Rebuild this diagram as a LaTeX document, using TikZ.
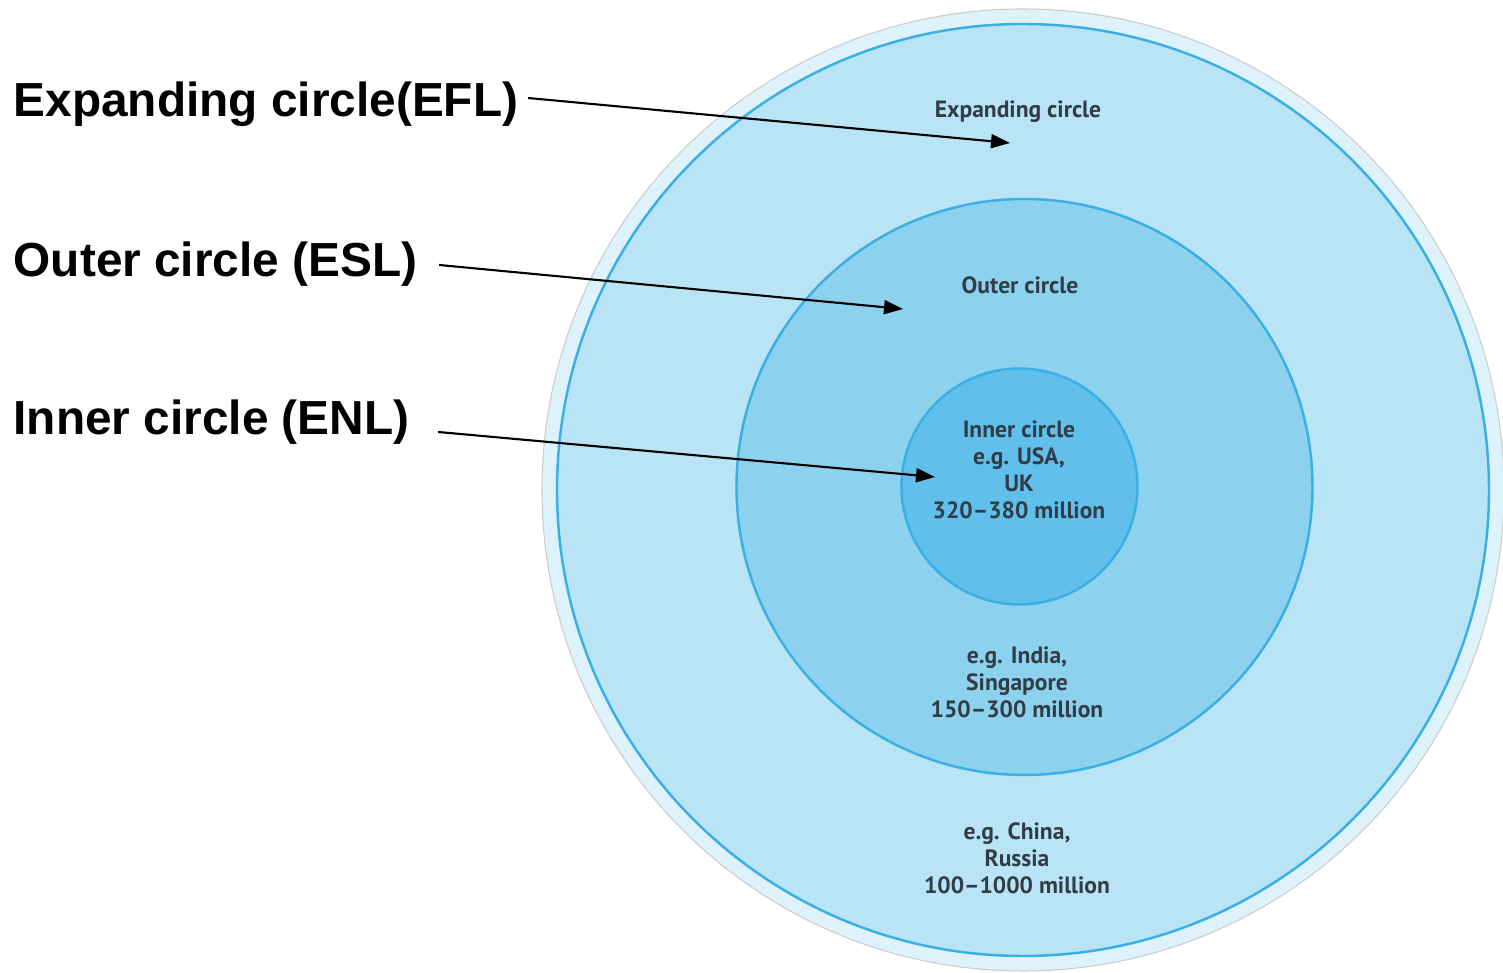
\documentclass[tikz,border=0pt]{standalone}
\usepackage{fontspec}
\setmainfont{Liberation Sans}
\newfontfamily\ringfont{PT Sans}
\usetikzlibrary{arrows.meta}

\definecolor{rimblue}{RGB}{221,242,250}
\definecolor{expblue}{RGB}{184,228,245}
\definecolor{outblue}{RGB}{140,210,238}
\definecolor{innblue}{RGB}{96,192,235}
\definecolor{ringline}{RGB}{58,175,228}
\definecolor{ringtext}{RGB}{50,60,70}

\begin{document}
\begin{tikzpicture}[
  ring/.style={draw=ringline, line width=0.7pt},
  ringlbl/.style={
    align=center, text=ringtext, inner sep=0pt,
    font=\ringfont\bfseries\fontsize{6.7}{7.7}\selectfont
  },
  sidelbl/.style={
    anchor=base west, inner sep=0pt,
    font=\bfseries\fontsize{13.6}{16}\selectfont
  },
  ptr/.style={-{Triangle[length=0.19cm, width=0.14cm]}, line width=0.6pt}
]
  \fill[white] (0,0) rectangle (15.03,9.73);
  \useasboundingbox (0,0) rectangle (15.03,9.73);
  % the three circles
  \coordinate (c0) at (10.23,4.83);
  \filldraw[fill=rimblue, draw=black!20, line width=0.3pt] (c0) circle (4.81);
  \filldraw[ring, fill=expblue] (c0) circle (4.66);
  \filldraw[ring, fill=outblue] (10.245,4.86) circle (2.88);
  \filldraw[ring, fill=innblue] (10.195,4.865) circle (1.18);

  \node[ringlbl] (expT) at (10.18,8.61) {Expanding circle};
  \node[ringlbl] (outT) at (10.20,6.88) {Outer circle};
  \node[ringlbl] (innT) at (10.19,5.03) {Inner circle\\e.g. USA,\\UK\\320–380 million};
  \node[ringlbl] (outB) at (10.17,2.91) {e.g. India,\\Singapore\\150–300 million};
  \node[ringlbl] (expB) at (10.17,1.15) {e.g. China,\\Russia\\100–1000 million};

  % labels on the left
  \node[sidelbl] (efl) at (0.13,8.56) {Expanding circle(EFL)};
  \node[sidelbl] (esl) at (0.13,6.96) {Outer circle (ESL)};
  \node[sidelbl] (enl) at (0.13,5.38) {Inner circle (ENL)};

  \coordinate (tipEFL) at (10.10,8.30);
  \coordinate (tipESL) at (9.03,6.64);
  \coordinate (tipENL) at (9.35,4.96);
  \draw[ptr] ([xshift=0.09cm,yshift=0.19cm]efl.base east) -- (tipEFL);
  \draw[ptr] ([xshift=0.21cm,yshift=0.12cm]esl.base east) -- (tipESL);
  \draw[ptr] ([xshift=0.28cm,yshift=0.03cm]enl.base east) -- (tipENL);
\end{tikzpicture}
\end{document}
